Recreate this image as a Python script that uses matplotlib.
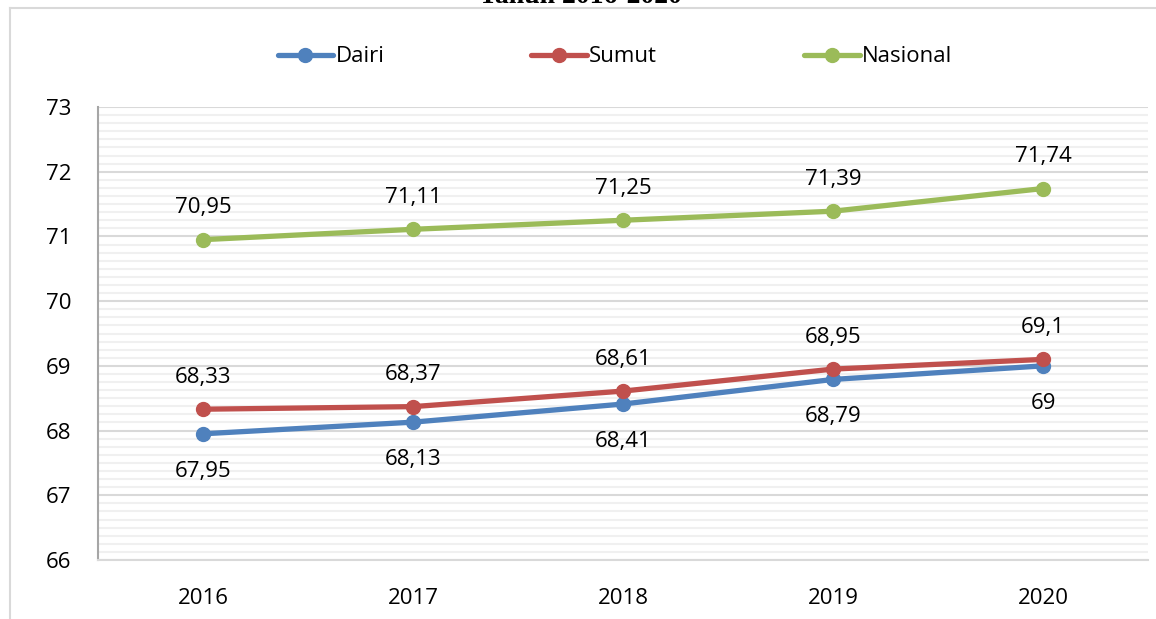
import matplotlib.pyplot as plt
from matplotlib.lines import Line2D
from matplotlib.ticker import MultipleLocator

# === Data ===
years = ["2016", "2017", "2018", "2019", "2020"]
dairi = [67.95, 68.13, 68.41, 68.79, 69.00]
sumut = [68.33, 68.37, 68.61, 68.95, 69.10]
nasional = [70.95, 71.11, 71.25, 71.39, 71.74]

dairi_lbl = ["67,95", "68,13", "68,41", "68,79", "69"]
sumut_lbl = ["68,33", "68,37", "68,61", "68,95", "69,1"]
nasional_lbl = ["70,95", "71,11", "71,25", "71,39", "71,74"]

plt.rcParams['font.family'] = ['Open Sans', 'DejaVu Sans']

fig = plt.figure(figsize=(11.56, 6.19), dpi=100)
ax = fig.add_axes([98/1156, 1-560/619, 1050/1156, 453/619])

# outer chart border (left and top edges only are inside the crop)
bx, by = 10/1156, 1 - 8/619
fig.lines.append(Line2D([bx, bx], [0, by], transform=fig.transFigure, color='#D9D9D9', linewidth=1.5))
fig.lines.append(Line2D([bx, 1], [by, by], transform=fig.transFigure, color='#D9D9D9', linewidth=1.5))
# title, mostly clipped at the top like in the source
fig.text(580/1156, 1 - 3/619, "Tahun 2016-2020", ha='center', va='baseline',
         fontsize=20, fontweight='bold', family='Liberation Serif')

x = list(range(len(years)))
series = [
    ("Dairi", dairi, dairi_lbl, '#4F81BD', -27),
    ("Sumut", sumut, sumut_lbl, '#C0504D', 23),
    ("Nasional", nasional, nasional_lbl, '#9BBB59', 23),
]
for name, vals, lbls, col, off in series:
    ax.plot(x, vals, color=col, linewidth=3.8, marker='o', markersize=10,
            label=name, solid_capstyle='round', zorder=3)
    for xi, v, t in zip(x, vals, lbls):
        ax.annotate(t, (xi, v), xytext=(0, off), textcoords='offset points',
                    ha='center', va='center', fontsize=16, color='#000000')

ax.set_xlim(-0.5, 4.5)
ax.set_ylim(66, 73)
ax.set_xticks(x)
ax.set_xticklabels(years)
ax.yaxis.set_major_locator(MultipleLocator(1))
ax.yaxis.set_minor_locator(MultipleLocator(0.125))
ax.grid(True, which='major', axis='y', color='#D9D9D9', linewidth=1.5, zorder=0)
ax.grid(True, which='minor', axis='y', color='#F0F0F0', linewidth=1.5, zorder=0)
ax.set_axisbelow(True)
ax.tick_params(axis='both', which='both', length=0, labelsize=16, colors='#000000')
ax.tick_params(axis='x', pad=20)
ax.tick_params(axis='y', pad=19)
for s in ['top', 'right']:
    ax.spines[s].set_visible(False)
ax.spines['left'].set_color('#A6A6A6')
ax.spines['bottom'].set_color('#D9D9D9')
ax.spines['left'].set_linewidth(1.5)
ax.spines['bottom'].set_linewidth(1.5)

fig.legend(loc='center', bbox_to_anchor=(615/1156, 1-57/619), ncol=3, frameon=False,
           fontsize=16, handlelength=2.5, handletextpad=0.1, columnspacing=6.62)

fig.savefig("out.png", dpi=100)
